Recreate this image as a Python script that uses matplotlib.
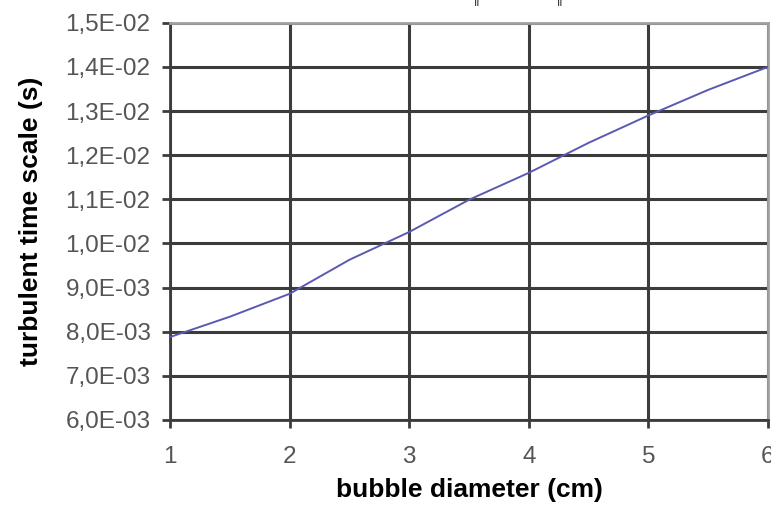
import matplotlib.pyplot as plt
from matplotlib.ticker import FuncFormatter

# diametro de burbuja (cm) y escala de tiempo turbulenta (s)
diametro = [1.0, 1.5, 2.0, 2.5, 3.0, 3.5, 4.0, 4.5, 5.0, 5.5, 6.0]
tiempo = [0.00788, 0.00834, 0.00886, 0.00963, 0.01026, 0.01099,
          0.01160, 0.01228, 0.01290, 0.01348, 0.01400]

x_ticks = [1, 2, 3, 4, 5, 6]
y_ticks = [0.006, 0.007, 0.008, 0.009, 0.010, 0.011, 0.012, 0.013, 0.014, 0.015]

plt.rcParams['font.family'] = ['Liberation Sans', 'DejaVu Sans']

fig = plt.figure(figsize=(7.71, 5.07), dpi=100)
ax = fig.add_axes([0.2205, 0.1716, 0.7755, 0.7834])

ax.plot(diametro, tiempo, color='#5a5ab4', linewidth=1.4, zorder=3)

ax.set_xlim(1, 6)
ax.set_ylim(0.006, 0.015)
ax.set_xticks(x_ticks)
ax.set_yticks(y_ticks)

def formato_excel(v, pos):
    # formato cientifico con coma decimal, estilo 1,5E-02
    s = f'{v:.1E}'.replace('.', ',')
    mant, exp = s.split('E')
    return f'{mant}E{exp[0]}{exp[1:].zfill(2)}'

ax.yaxis.set_major_formatter(FuncFormatter(formato_excel))

ax.grid(True, color='#3c3c3c', linewidth=2.2, zorder=1)
for lado in ['top', 'right']:
    ax.spines[lado].set_color('#a0a0a0')
    ax.spines[lado].set_linewidth(2)
for lado in ['left', 'bottom']:
    ax.spines[lado].set_color('#3c3c3c')
    ax.spines[lado].set_linewidth(2)

ax.tick_params(axis='both', colors='#3c3c3c', length=6, width=2,
               labelsize=17.5, labelcolor='#555555')
ax.tick_params(axis='x', pad=13)
ax.tick_params(axis='y', pad=8)

ax.set_xlabel('bubble diameter (cm)', fontsize=19, fontweight='bold', labelpad=7)
ax.set_ylabel('turbulent time scale (s)', fontsize=19, fontweight='bold', labelpad=16)

# restos del titulo recortado en el borde superior
fig.text(0.619, 1.0, '||', fontsize=9, ha='center', va='center', color='#222222')
fig.text(0.727, 1.0, '||', fontsize=9, ha='center', va='center', color='#222222')

fig.savefig('out.png', dpi=100)
